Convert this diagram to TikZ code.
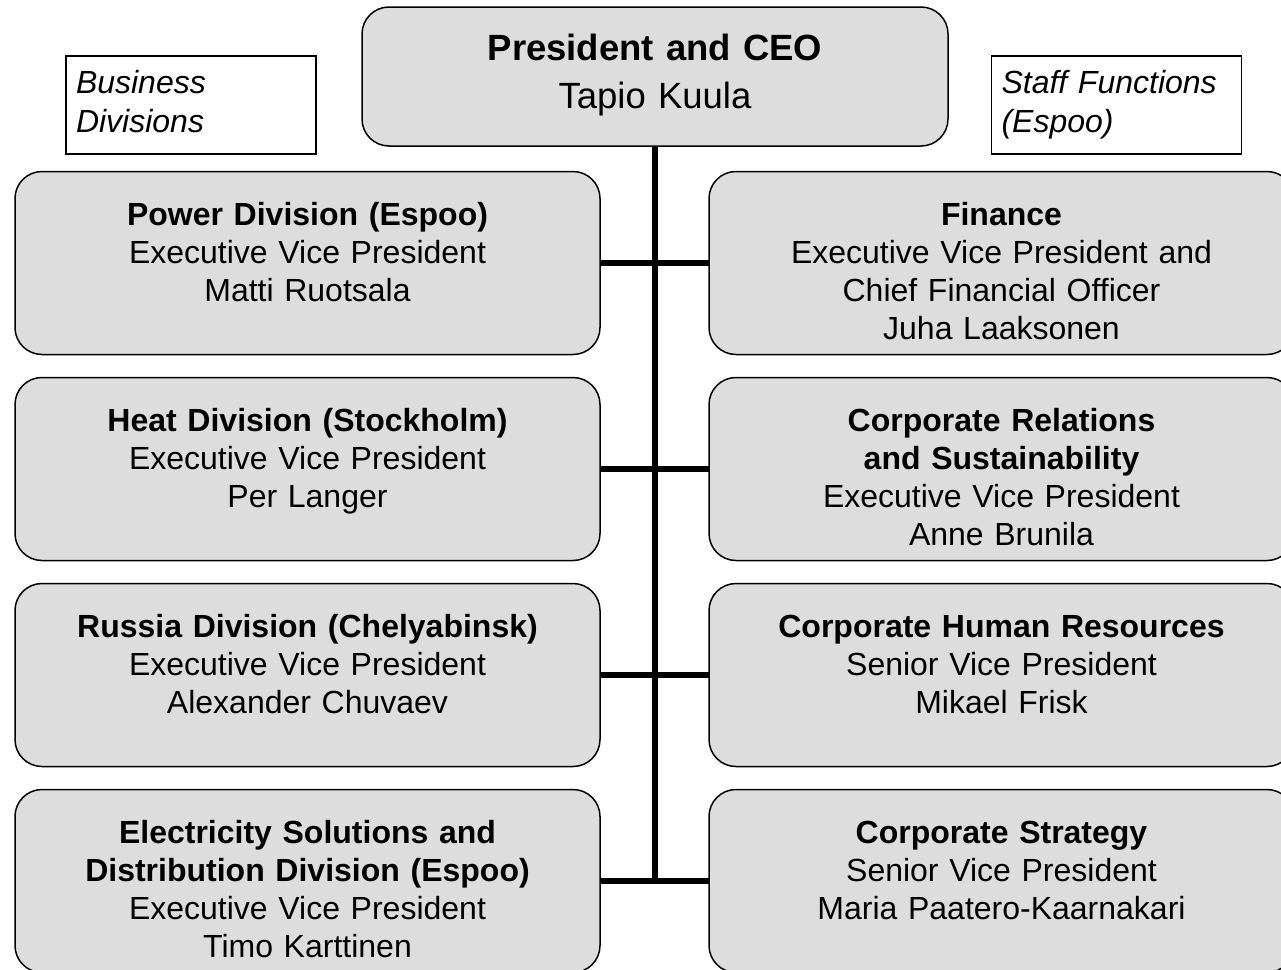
\documentclass[tikz,border=0pt]{standalone}
\usepackage{fontspec}
\setmainfont{Liberation Sans}
\usetikzlibrary{positioning}
\definecolor{boxfill}{HTML}{DDDDDD}
\begin{document}
\begin{tikzpicture}[x=1pt, y=-1pt,
    unit/.style = {draw, line width=1.5pt, fill=boxfill, rounded corners=27pt, anchor=north,
                   inner xsep=6pt, inner ysep=0pt, outer sep=0pt, text width=573pt, align=center,
                   text height=54pt, text depth=129pt, font=\fontsize{32}{38}\selectfont},
    head/.style = {unit, text width=574pt, text height=53pt, text depth=86pt,
                   font=\fontsize{36.5}{48}\selectfont},
    side/.style = {draw, line width=1.5pt, fill=white, anchor=north, inner xsep=10pt, inner ysep=0pt,
                   text width=230pt, align=left, text height=38pt, text depth=60pt,
                   font=\fontsize{32}{39}\selectfont\itshape},
    link/.style = {line width=5.5pt}]
    \useasboundingbox (0,0) rectangle (1281,969);
    \clip (0,0) rectangle (1281,969);
    % top
    \node[head] (ceo) at (655,7) {\textbf{President and CEO}\\Tapio Kuula};
    \node[side] (bus) at (191,55) {Business\\Divisions};
    \node[side] (staff) at (1116.5,55) {Staff Functions\\(Espoo)};
    % business divisions
    \node[unit] (power) at (307.5,171.5) {\textbf{Power Division (Espoo)}\\Executive Vice President\\Matti Ruotsala};
    \node[unit, below=23pt of power] (heat) {\textbf{Heat Division (Stockholm)}\\Executive Vice President\\Per Langer};
    \node[unit, below=23pt of heat] (russia) {\textbf{Russia Division (Chelyabinsk)}\\Executive Vice President\\Alexander Chuvaev};
    \node[unit, below=23pt of russia] (esd) {\textbf{Electricity Solutions and}\\\textbf{Distribution Division (Espoo)}\\Executive Vice President\\Timo Karttinen};
    % staff functions
    \node[unit, right=109pt of power] (fin) {\textbf{Finance}\\Executive Vice President and\\Chief Financial Officer\\Juha Laaksonen};
    \node[unit, right=109pt of heat] (crs) {\textbf{Corporate Relations}\\\textbf{and Sustainability}\\Executive Vice President\\Anne Brunila};
    \node[unit, right=109pt of russia] (hr) {\textbf{Corporate Human Resources}\\Senior Vice President\\Mikael Frisk};
    \node[unit, right=109pt of esd] (strat) {\textbf{Corporate Strategy}\\Senior Vice President\\Maria Paatero-Kaarnakari};
    % lines
    \draw[link] (ceo.south) -- (ceo.south |- esd.east);
    \draw[link] (power.east) -- (fin.west);
    \draw[link] (heat.east) -- (crs.west);
    \draw[link] (russia.east) -- (hr.west);
    \draw[link] (esd.east) -- (strat.west);
\end{tikzpicture}
\end{document}
